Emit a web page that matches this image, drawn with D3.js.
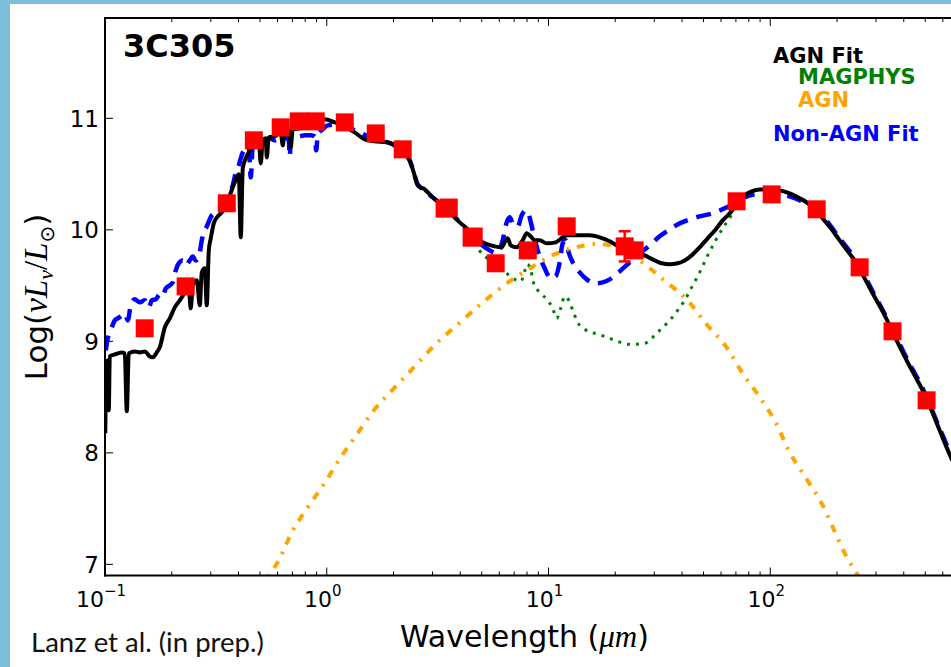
<!DOCTYPE html>
<html><head><meta charset="utf-8">
<script src="https://cdn.jsdelivr.net/npm/d3@7"></script>
<style>body{margin:0;background:#fff}svg{display:block}</style>
</head><body>
<svg id="c" width="951" height="667"></svg>
<script>
// ---------------- DATA ----------------
const blackWave = [0.1003,0.1014,0.1029,0.1040,0.1051,0.1107,0.1190,0.1228,0.1254,0.1280,0.1362,0.1435,0.1512,0.1592,0.1642,0.1712,0.1766,0.1861,0.1960,0.2064,0.2174,0.2313,0.2386,0.2436,0.2487,0.2594,0.2676,0.2732,0.2818,0.2877,0.2938,0.2999,0.3094,0.3225,0.3362,0.3505,0.3653,0.3848,0.4011,0.4095,0.4181,0.4313,0.4496,0.4736,0.4937,0.5040,0.5146,0.5309,0.5364,0.5477,0.5829,0.6203,0.6333,0.6466,0.6811,0.6882,0.7026,0.7556,0.8043,0.8383,0.8829,0.9300,0.9795,1.0866,1.2055,1.3374,1.4837,1.6459,1.8645,2.0258,2.2012,2.3667,2.4671,2.5716,2.7664,3.0061,3.4755,3.9778,4.2783,4.6489,5.0507,5.7203,6.1518,6.4124,6.5470,6.7544,7.1887,7.6498,7.9743,8.3125,8.6649,9.1277,9.8150,10.777,11.590,12.207,13.402,15.343,17.020,18.879,20.303,22.059,24.468,27.140,29.500,32.390,35.190,38.232,41.115,44.216,48.051,52.217,56.746,61.02,65.62,70.56,76.67,82.45,89.60,99.38,110.25,122.33,135.70,145.90,158.55,172.29,189.18,205.56,225.70,245.2,266.5,289.5,317.8,345.3,375.3,412.1,447.8,486.6,534.1,580.4,624.2,678.3];
const blackLum = [8.175,8.785,8.830,8.381,8.865,8.883,8.901,8.892,8.372,8.892,8.910,8.901,8.910,8.865,8.857,8.901,8.946,9.126,9.206,9.305,9.368,9.448,9.475,9.296,9.502,9.547,9.323,9.619,9.655,9.323,9.816,9.924,10.058,10.121,10.157,10.220,10.309,10.426,10.498,9.933,10.552,10.641,10.713,10.785,10.803,10.596,10.803,10.821,10.650,10.830,10.839,10.874,10.758,10.883,10.892,10.740,10.901,10.910,10.919,10.937,10.946,10.973,10.991,10.964,10.928,10.874,10.812,10.794,10.785,10.758,10.686,10.623,10.516,10.399,10.363,10.291,10.184,10.067,10.013,9.942,9.888,9.852,9.843,9.906,9.924,9.861,9.843,9.906,9.969,9.942,9.906,9.906,9.879,9.888,9.933,9.951,9.951,9.951,9.933,9.897,9.861,9.834,9.807,9.771,9.735,9.700,9.691,9.700,9.726,9.771,9.843,9.924,10.004,10.085,10.148,10.229,10.309,10.345,10.363,10.363,10.354,10.327,10.283,10.247,10.184,10.103,10.004,9.906,9.798,9.700,9.565,9.430,9.287,9.143,8.991,8.830,8.695,8.561,8.381,8.202,8.049,7.888];

const blueWave = [0.1008,0.1029,0.1062,0.1107,0.1142,0.1178,0.1228,0.1267,0.1307,0.1362,0.1435,0.1512,0.1576,0.1626,0.1694,0.1766,0.1822,0.1879,0.1960,0.2021,0.2085,0.2151,0.2242,0.2313,0.2411,0.2487,0.2567,0.2648,0.2732,0.2789,0.2877,0.3031,0.3159,0.3294,0.3469,0.3653,0.3769,0.3888,0.4011,0.4095,0.4181,0.4313,0.4450,0.4543,0.4638,0.4988,0.5254,0.5534,0.5829,0.6139,0.6466,0.6740,0.6811,0.6882,0.7173,0.7556,0.7960,0.8383,0.8829,0.8968,0.9108,0.9593,1.0104,1.1445,1.2696,1.4086,1.5628,1.8262,2.0258,2.2012,2.3667,2.4671,2.5716,2.7664,3.0061,3.4755,3.9778,4.4138,4.8956,5.4306,5.8406,6.2160,6.4797,6.6846,6.9672,7.2636,7.5710,7.8918,8.1417,8.4863,8.9395,9.6133,10.231,10.777,11.232,11.590,11.957,12.335,12.993,13.826,14.871,16.156,17.554,18.879,20.945,23.233,25.772,28.594,31.724,35.190,39.036,43.308,48.051,55.009,62.300,70.56,76.67,85.04,94.35,101.47,110.25,122.33,135.70,150.51,172.29,205.56,245.2,289.5,345.3,412.1,486.6,580.4,678.3];
const blueLum = [8.919,9.027,9.099,9.188,9.206,9.224,9.251,9.188,9.323,9.377,9.350,9.368,9.305,9.368,9.377,9.422,9.404,9.475,9.502,9.529,9.637,9.700,9.726,9.682,9.726,9.762,9.726,9.753,9.906,9.978,10.031,10.130,10.157,10.193,10.238,10.336,10.399,10.516,10.578,10.641,10.695,10.731,10.749,10.471,10.749,10.794,10.803,10.821,10.803,10.821,10.830,10.803,10.659,10.803,10.830,10.839,10.848,10.848,10.839,10.713,10.857,10.901,10.937,10.946,10.910,10.874,10.830,10.794,10.758,10.695,10.623,10.516,10.408,10.354,10.291,10.193,10.067,9.969,9.879,9.816,9.789,9.906,10.067,10.112,10.040,10.031,10.130,10.175,10.139,9.996,9.816,9.655,9.565,9.583,9.709,9.879,9.906,9.798,9.691,9.619,9.556,9.520,9.529,9.556,9.628,9.709,9.789,9.861,9.942,10.004,10.058,10.094,10.121,10.148,10.193,10.247,10.291,10.318,10.327,10.327,10.318,10.300,10.265,10.211,10.121,9.924,9.718,9.448,9.161,8.848,8.578,8.220,7.906];

const greenWave = [2.5716,2.7664,3.0061,3.4755,3.9778,4.4138,4.7952,5.4306,5.9632,6.4797,7.0399,7.4928,7.7300,7.9743,8.2270,8.5755,9.1277,9.9174,10.446,10.889,11.350,11.834,12.335,12.859,13.542,14.565,16.156,17.922,19.886,23.233,27.140,30.119,32.390,35.190,38.232,41.115,44.216,48.051,52.217,56.746,61.02,66.30,70.56,76.67,82.45,89.60,99.38,110.25,122.33,135.70,145.90,158.55,172.29,189.18,205.56,225.70,245.2,266.5,289.5,317.8,345.3,375.3,412.1,447.8,486.6,534.1,580.4,624.2,678.3];
const greenLum = [10.399,10.354,10.291,10.184,10.067,9.951,9.834,9.726,9.673,9.610,9.556,9.538,9.592,9.691,9.673,9.520,9.439,9.368,9.296,9.206,9.296,9.404,9.368,9.278,9.170,9.108,9.072,9.045,9.009,8.973,8.982,9.054,9.117,9.188,9.278,9.368,9.484,9.619,9.771,9.906,10.013,10.121,10.220,10.300,10.345,10.363,10.363,10.354,10.327,10.283,10.247,10.184,10.103,10.004,9.906,9.798,9.700,9.565,9.430,9.287,9.143,8.991,8.830,8.695,8.561,8.381,8.202,8.049,7.888];

const orangeWave = [0.4988,0.5574,0.6076,0.6918,0.8209,0.9754,1.1564,1.3769,1.6290,2.0258,2.5188,3.1195,3.8557,4.9985,6.4797,8.4000,10.889,14.717,16.495,19.017,25.692,33.28,43.08,51.14,63.47,75.10,89.60,106.32,121.07,143.86,170.52,194.37,221.07,240.96,274.4];
const orangeLum = [6.767,6.919,7.036,7.278,7.511,7.726,7.960,8.175,8.381,8.587,8.785,8.982,9.143,9.341,9.520,9.664,9.789,9.861,9.874,9.861,9.726,9.547,9.352,9.161,8.949,8.713,8.500,8.265,8.022,7.783,7.547,7.305,7.065,6.946,6.767];

const photWave = [0.151,0.231,0.354,0.469,0.62,0.748,0.892,1.206,1.663,2.201,3.40,3.55,4.50,4.60,5.78,8.06,12.08,22.06,24.47,70.5,101.5,161.9,253,356,507];
const photLum  = [9.117,9.493,10.238,10.803,10.919,10.973,10.973,10.964,10.865,10.722,10.19,10.20,9.93,9.94,9.700,9.816,10.031,9.852,9.816,10.256,10.318,10.184,9.664,9.090,8.471];
const photErr  = [0,0,0,0,0,0,0,0,0,0,0,0,0,0,0,0,0,0.135,0,0,0,0,0,0,0];

const yTicks = [7,8,9,10,11];
const xMajorTicks = [0.1,1,10,100,1000];
const xTickExp = ["-1","0","1","2","3"];
const legendLabels = ["AGN Fit","MAGPHYS","AGN","Non-AGN Fit"];
const legendColors = ["#000000","#008000","#ffa500","#0000ff"];

// ---------------- DRAW ----------------
const svg = d3.select('#c');
const W = 951, H = 667;
const L = 105, R = 992, T = 18, B = 575.5;

svg.append('rect').attr('width', W).attr('height', H).attr('fill', '#7dbfda');
svg.append('rect').attr('x', 10).attr('y', 4).attr('width', W - 10).attr('height', H - 4).attr('fill', '#ffffff');

const x = d3.scaleLog().domain([0.1, 1000]).range([L, R]);
const y = d3.scaleLinear().domain([6.9, 11.9]).range([B, T]);

svg.append('clipPath').attr('id', 'clip').append('rect')
  .attr('x', L).attr('y', T).attr('width', R - L).attr('height', B - T);

const plot = svg.append('g').attr('clip-path', 'url(#clip)');
const zip = (a, b) => a.map((v, i) => [v, b[i]]);
const line = d3.line().x(d => x(d[0])).y(d => y(d[1])).curve(d3.curveMonotoneX);

plot.append('path').datum(zip(blueWave, blueLum)).attr('d', line)
  .attr('fill', 'none').attr('stroke', '#0000ff').attr('stroke-width', 4.5)
  .attr('stroke-dasharray', '15,9');
plot.append('path').datum(zip(greenWave, greenLum)).attr('d', line)
  .attr('fill', 'none').attr('stroke', '#008000').attr('stroke-width', 3)
  .attr('stroke-dasharray', '3,6');
plot.append('path').datum(zip(orangeWave, orangeLum)).attr('d', line)
  .attr('fill', 'none').attr('stroke', '#ffa500').attr('stroke-width', 4)
  .attr('stroke-dasharray', '8,8,2.5,8');
plot.append('path').datum(zip(blackWave, blackLum)).attr('d', line)
  .attr('fill', 'none').attr('stroke', '#000000').attr('stroke-width', 4)
  .attr('stroke-linejoin', 'round');

// photometry
const phot = photWave.map((w, i) => ({w, l: photLum[i], e: photErr[i]}));
const eb = plot.append('g').attr('stroke', '#ff0000').attr('stroke-width', 2.5);
phot.filter(d => d.e > 0).forEach(d => {
  eb.append('line').attr('x1', x(d.w)).attr('x2', x(d.w)).attr('y1', y(d.l - d.e)).attr('y2', y(d.l + d.e));
  [d.l - d.e, d.l + d.e].forEach(v => eb.append('line')
    .attr('x1', x(d.w) - 6).attr('x2', x(d.w) + 6).attr('y1', y(v)).attr('y2', y(v)));
});
const S = 18;
plot.append('g').selectAll('rect').data(phot).join('rect')
  .attr('x', d => x(d.w) - S / 2).attr('y', d => y(d.l) - S / 2)
  .attr('width', S).attr('height', S).attr('fill', '#ff0000');

// frame
const frame = svg.append('g').attr('stroke', '#000').attr('stroke-width', 2).attr('fill', 'none');
frame.append('line').attr('x1', L).attr('x2', L).attr('y1', T - 1).attr('y2', B + 1);
frame.append('line').attr('x1', L - 1).attr('x2', R).attr('y1', B).attr('y2', B);
frame.append('line').attr('x1', L - 1).attr('x2', R).attr('y1', T).attr('y2', T);

// ticks
const tk = svg.append('g').attr('stroke', '#000').attr('stroke-width', 1);
const minor = [];
xMajorTicks.slice(0, -1).forEach(m => { for (let k = 2; k <= 9; k++) minor.push(m * k); });
xMajorTicks.forEach(v => {
  tk.append('line').attr('x1', x(v)).attr('x2', x(v)).attr('y1', B).attr('y2', B - 8);
  tk.append('line').attr('x1', x(v)).attr('x2', x(v)).attr('y1', T).attr('y2', T + 8);
});
minor.forEach(v => {
  tk.append('line').attr('x1', x(v)).attr('x2', x(v)).attr('y1', B).attr('y2', B - 4);
  tk.append('line').attr('x1', x(v)).attr('x2', x(v)).attr('y1', T).attr('y2', T + 4);
});
yTicks.forEach(v => {
  tk.append('line').attr('x1', L).attr('x2', L + 8).attr('y1', y(v)).attr('y2', y(v));
});

// tick labels
const font = "'DejaVu Sans', sans-serif";
yTicks.forEach(v => {
  svg.append('text').attr('x', 99).attr('y', y(v)).attr('dy', '0.36em')
    .attr('text-anchor', 'end').attr('font-family', font).attr('font-size', 23)
    .text(v);
});
xMajorTicks.forEach((v, i) => {
  if (x(v) > W - 20) return; // label lies outside the visible window
  const t = svg.append('text').attr('x', x(v) - 4).attr('y', 607)
    .attr('text-anchor', 'middle').attr('font-family', font).attr('font-size', 22);
  t.append('tspan').text('10');
  t.append('tspan').attr('font-size', 15).attr('dy', -11).text(xTickExp[i].replace('-', '\u2212'));
});

// axis labels
const xl = svg.append('text').attr('x', 400).attr('y', 647).attr('font-family', font).attr('font-size', 30);
xl.append('tspan').text('Wavelength (');
xl.append('tspan').attr('font-family', "'Liberation Serif', serif").attr('font-style', 'italic').attr('font-size', 31).text('\u03bcm');
xl.append('tspan').text(')');

const yl = svg.append('text').attr('transform', 'translate(47,297) rotate(-90)')
  .attr('text-anchor', 'middle').attr('font-family', font).attr('font-size', 31);
const serif = "'Liberation Serif', serif";
yl.append('tspan').text('Log(');
yl.append('tspan').attr('font-family', serif).attr('font-style', 'italic').attr('font-size', 33).text('\u03bdL');
yl.append('tspan').attr('font-family', serif).attr('font-style', 'italic').attr('font-size', 22).attr('dy', 6).text('\u03bd');
yl.append('tspan').attr('font-family', serif).attr('font-size', 33).attr('dy', -6).text('/');
yl.append('tspan').attr('font-family', serif).attr('font-style', 'italic').attr('font-size', 33).text('L');
yl.append('tspan').attr('font-family', font).attr('font-size', 20).attr('dy', 7).text('\u2299');
yl.append('tspan').attr('dy', -7).text(')');

// title
svg.append('text').attr('x', 123).attr('y', 57).attr('font-family', font)
  .attr('font-weight', 'bold').attr('font-size', 32).text('3C305');

// legend
const legX = [773, 798, 798, 773];
const legY = [63, 84, 107, 141];
legendLabels.forEach((s, i) => {
  svg.append('text').attr('x', legX[i]).attr('y', legY[i]).attr('font-family', font)
    .attr('font-weight', 'bold').attr('font-size', 21).attr('fill', legendColors[i]).text(s);
});

// credit
const cr = svg.append('text').attr('x', 31).attr('y', 652).attr('font-family', "Lato, 'Open Sans', sans-serif")
  .attr('font-size', 24).attr('fill', '#111').text('Lanz et al. (in prep.)');
const cw = cr.node().getComputedTextLength();
if (cw > 0) cr.attr('font-size', 24 * 233 / cw);
</script></body></html>
